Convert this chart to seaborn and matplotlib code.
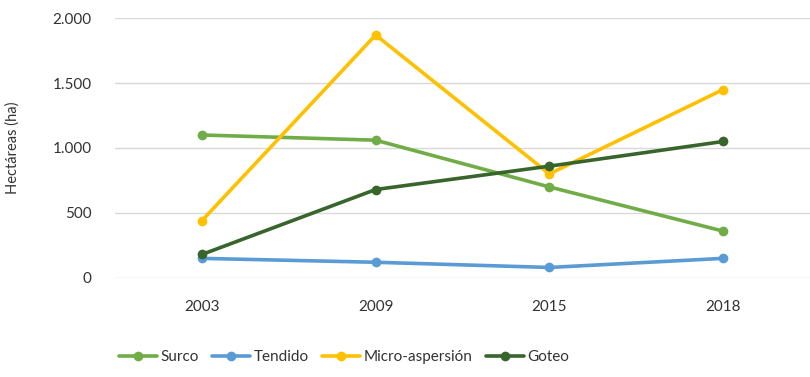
import matplotlib
matplotlib.use("Agg")
import matplotlib.pyplot as plt
import matplotlib.transforms as mtransforms
from matplotlib.ticker import FuncFormatter
import seaborn as sns
import pandas as pd

years = ["2003", "2009", "2015", "2018"]
surco = [1100, 1060, 700, 360]
tendido = [150, 120, 80, 150]
micro_aspersion = [440, 1870, 800, 1450]
goteo = [180, 680, 860, 1050]

series_names = ["Surco", "Tendido", "Micro-aspersión", "Goteo"]
series_values = [surco, tendido, micro_aspersion, goteo]
colors = ["#70AD47", "#5B9BD5", "#FFC000", "#38652B"]

rows = []
for name, vals in zip(series_names, series_values):
    for yr, v in zip(years, vals):
        rows.append({"Año": yr, "Hectáreas": v, "Sistema": name})
df = pd.DataFrame(rows)

sns.set_theme(style="white")
plt.rcParams["font.family"] = ["Lato", "DejaVu Sans"]

fig = plt.figure(figsize=(8.10, 3.77), dpi=100)
ax = fig.add_axes([0.142, 0.263, 0.858, 0.689])

sns.lineplot(
    data=df, x="Año", y="Hectáreas", hue="Sistema",
    palette=dict(zip(series_names, colors)), hue_order=series_names,
    marker="o", markersize=7, markeredgewidth=0, linewidth=2.6,
    sort=False, ax=ax, clip_on=False,
)

ax.set_xlim(-0.5, 3.5)
ax.set_ylim(0, 2000)
ax.set_yticks([0, 500, 1000, 1500, 2000])
ax.yaxis.set_major_formatter(FuncFormatter(lambda v, p: f"{int(v):,}".replace(",", ".")))
ax.grid(axis="y", color="#D9D9D9", linewidth=1)
ax.set_axisbelow(True)
for s in ax.spines.values():
    s.set_visible(False)
ax.tick_params(axis="both", length=0, labelsize=11, colors="#333333")
ax.tick_params(axis="x", pad=16)
ax.tick_params(axis="y", pad=17)
ax.set_xlabel("")
ax.set_ylabel("Hectáreas (ha)", fontsize=10.5, color="#333333")
ax.yaxis.set_label_coords(
    20 / 810, 0.5,
    transform=mtransforms.blended_transform_factory(fig.transFigure, ax.transAxes),
)

handles, labels = ax.get_legend_handles_labels()
ax.legend(
    handles, labels, loc="center", bbox_to_anchor=(344 / 810, 1 - 357 / 377),
    bbox_transform=fig.transFigure, ncol=4, frameon=False, fontsize=11,
    handlelength=2.5, columnspacing=0.9, handletextpad=0.2, labelcolor="#333333",
)

fig.savefig("out.png", dpi=100)
